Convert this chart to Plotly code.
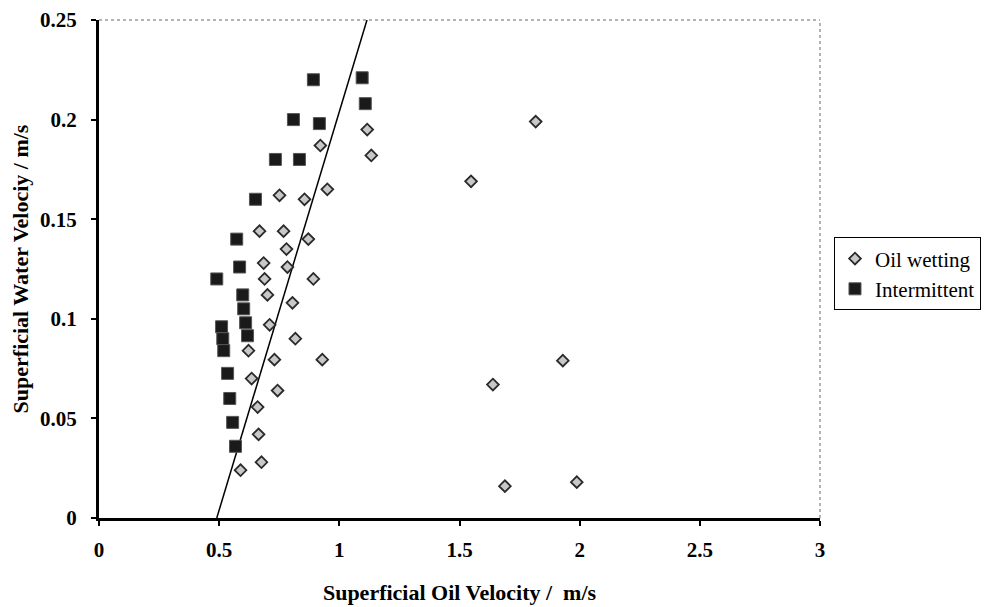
import plotly.graph_objects as go

# Oil wetting (diamonds)
oil_x = [0.921, 1.116, 1.133, 0.950, 0.751, 0.855, 0.668, 0.768, 0.871, 0.780,
         0.685, 0.784, 0.689, 0.892, 0.701, 0.805, 0.710, 0.817, 0.622, 0.730,
         0.929, 0.635, 0.743, 0.660, 0.664, 0.676, 0.589, 1.817, 1.548, 1.930,
         1.639, 1.689, 1.988]
oil_y = [0.187, 0.195, 0.182, 0.165, 0.162, 0.160, 0.144, 0.144, 0.140, 0.135,
         0.128, 0.126, 0.120, 0.120, 0.112, 0.108, 0.097, 0.090, 0.084, 0.0795,
         0.0795, 0.070, 0.064, 0.0557, 0.042, 0.028, 0.024, 0.199, 0.169, 0.079,
         0.067, 0.016, 0.018]

# Intermittent (squares)
int_x = [0.892, 1.095, 1.108, 0.809, 0.917, 0.734, 0.834, 0.651, 0.573, 0.585,
         0.490, 0.598, 0.602, 0.610, 0.618, 0.510, 0.515, 0.519, 0.535, 0.544,
         0.556, 0.568]
int_y = [0.220, 0.221, 0.208, 0.200, 0.198, 0.180, 0.180, 0.160, 0.140, 0.126,
         0.120, 0.112, 0.105, 0.098, 0.0915, 0.096, 0.090, 0.084, 0.0726, 0.060,
         0.048, 0.036]

# Transition line
line_x = [0.49, 1.115]
line_y = [0.0, 0.25]

x_ticks = [0, 0.5, 1, 1.5, 2, 2.5, 3]
x_tick_labels = ["0", "0.5", "1", "1.5", "2", "2.5", "3"]
y_ticks = [0, 0.05, 0.1, 0.15, 0.2, 0.25]
y_tick_labels = ["0", "0.05", "0.1", "0.15", "0.2", "0.25"]

FONT = "Liberation Serif"

fig = go.Figure()
fig.add_trace(go.Scatter(
    x=line_x, y=line_y, mode="lines", showlegend=False,
    line=dict(color="black", width=1.5), hoverinfo="skip"))
fig.add_trace(go.Scatter(
    x=oil_x, y=oil_y, mode="markers", name="Oil wetting",
    marker=dict(symbol="diamond", size=9, color="#c8c8c8",
                line=dict(color="#2a2a2a", width=1.8))))
fig.add_trace(go.Scatter(
    x=int_x, y=int_y, mode="markers", name="Intermittent",
    marker=dict(symbol="square", size=12, color="#1a1a1a",
                line=dict(color="#555555", width=1))))

fig.update_layout(
    width=983, height=599,
    margin=dict(l=91, r=171, t=12, b=89, autoexpand=False),
    paper_bgcolor="white", plot_bgcolor="white",
    font=dict(family=FONT, color="black"),
    showlegend=True,
    legend=dict(x=1.0194, y=0.5635, xanchor="left", yanchor="top",
                bordercolor="black", borderwidth=1,
                font=dict(family=FONT, size=21, color="black"),
                itemwidth=30, tracegroupgap=0),
    xaxis=dict(range=[0, 3], tickvals=x_ticks, ticktext=x_tick_labels,
               showgrid=False, zeroline=False, showline=True,
               linecolor="black", linewidth=3, ticks="outside",
               ticklen=5, tickwidth=2, tickcolor="black", automargin=False,
               tickfont=dict(family=FONT, size=21, color="black", weight="bold"),
               ticklabelstandoff=6, ticklabeloverflow="allow",
               title=dict(text="Superficial Oil Velocity /  m/s",
                          font=dict(family=FONT, size=22, color="black", weight="bold"),
                          standoff=24)),
    yaxis=dict(range=[0, 0.25], tickvals=y_ticks, ticktext=y_tick_labels,
               showgrid=False, zeroline=False, showline=True,
               linecolor="black", linewidth=3, ticks="outside",
               ticklen=5, tickwidth=2, tickcolor="black", automargin=False,
               tickfont=dict(family=FONT, size=21, color="black", weight="bold"),
               ticklabelstandoff=10, ticklabeloverflow="allow",
               title=dict(text="Superficial Water Velociy / m/s",
                          font=dict(family=FONT, size=22, color="black", weight="bold"),
                          standoff=8)),
)

# thin top and right border
fig.add_shape(type="line", xref="paper", yref="paper", x0=0, x1=1, y0=1, y1=1,
              line=dict(color="#666666", width=1, dash="dot"))
fig.add_shape(type="line", xref="paper", yref="paper", x0=1, x1=1, y0=0, y1=1,
              line=dict(color="#666666", width=1, dash="dot"))

fig.write_html("out.html")
